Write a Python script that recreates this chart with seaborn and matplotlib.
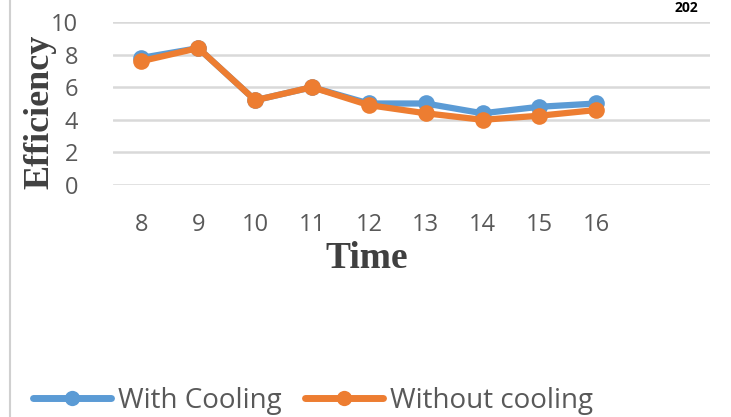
import numpy as np
import pandas as pd
import seaborn as sns
import matplotlib.pyplot as plt
from matplotlib.lines import Line2D

# data
hours = [8, 9, 10, 11, 12, 13, 14, 15, 16]
with_cooling = [7.8, 8.4, 5.2, 6.0, 5.0, 5.0, 4.4, 4.8, 5.0]
without_cooling = [7.6, 8.4, 5.2, 6.0, 4.9, 4.4, 4.0, 4.25, 4.6]
series_names = ["With Cooling", "Without cooling"]
y_ticks = [0, 2, 4, 6, 8, 10]

df = pd.DataFrame({
    "Time": hours * 2,
    "Efficiency": with_cooling + without_cooling,
    "series": [series_names[0]] * len(hours) + [series_names[1]] * len(hours),
})

sns.set_theme(style="white")
plt.rcParams["font.family"] = ["Open Sans", "DejaVu Sans"]

colors = {"With Cooling": "#5B9BD5", "Without cooling": "#ED7D31"}
grey = "#595959"

fig = plt.figure(figsize=(7.31, 4.17), dpi=100)
ax = fig.add_axes([0.1546, 0.5564, 0.8167, 0.3908])

sns.lineplot(data=df, x="Time", y="Efficiency", hue="series", palette=colors,
             marker="o", markersize=12, markeredgewidth=0, linewidth=4.5,
             legend=False, ax=ax, zorder=3)

ax.set_xlim(7.5, 18.0)
ax.set_ylim(0, 10)
ax.set_yticks(y_ticks)
ax.set_xticks(hours)
ax.yaxis.grid(True, color="#d9d9d9", linewidth=1.8)
ax.xaxis.grid(False)
for s in ax.spines.values():
    s.set_visible(False)
ax.tick_params(axis="both", length=0, labelsize=17, labelcolor=grey)
ax.tick_params(axis="y", pad=25)
ax.tick_params(axis="x", pad=20)
ax.set_xlabel("")
ax.set_ylabel("")

fig.text(40 / 731, 1 - 112 / 417, "Efficiency", rotation=90, ha="center", va="center",
         fontsize=26, fontweight="bold", family="Liberation Serif", color="#404040")
fig.text(367 / 731, 1 - 258 / 417, "Time", ha="center", va="center",
         fontsize=27, fontweight="bold", family="Liberation Serif", color="#404040")

handles = [Line2D([], [], color=colors[n], linewidth=5, marker="o", markersize=11,
                  markeredgewidth=0)
           for n in series_names]
fig.legend(handles, series_names, loc="center left", bbox_to_anchor=(33 / 731, 1 - 401 / 417),
           ncol=2, frameon=False, fontsize=20, labelcolor=grey, handlelength=2.8,
           handletextpad=0.25, columnspacing=0.85, borderpad=0, borderaxespad=0)

# left border line of the cropped figure and clipped page number
fig.add_artist(Line2D([10 / 731, 10 / 731], [0, 1], color="#d0d0d0", linewidth=1.5))
fig.text(686 / 731, 0.998, "202", ha="center", va="top", fontsize=10,
         fontweight="bold", color="black")

fig.savefig("out.png", dpi=100)
